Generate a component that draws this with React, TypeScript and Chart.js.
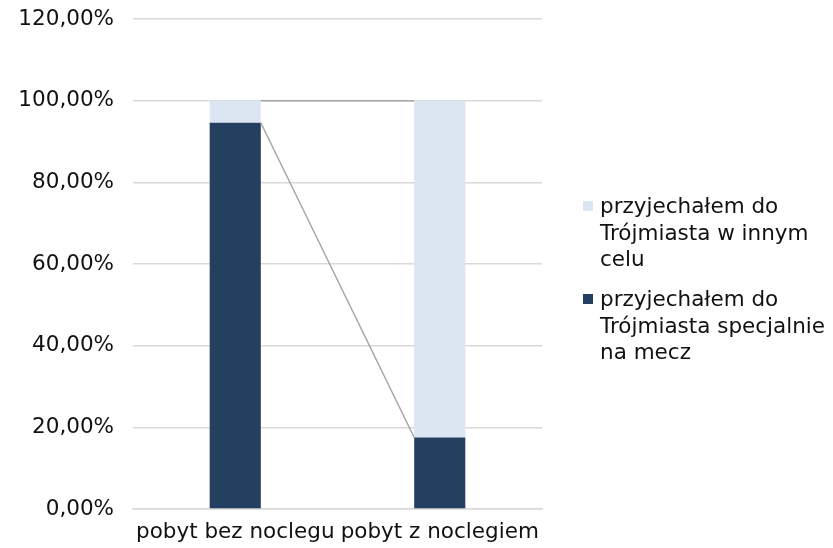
import React, { useEffect, useRef } from "react";
import { Chart, registerables } from "chart.js";

Chart.register(...registerables);

const categories = ["pobyt bez noclegu", "pobyt z noclegiem"];
const seriesNames = [
  "przyjechałem do Trójmiasta specjalnie na mecz",
  "przyjechałem do Trójmiasta w innym celu",
];
const specjalnie = [94.6, 17.5];
const innyCel = [5.4, 82.5];
const legendLines = [
  ["przyjechałem do", "Trójmiasta w innym", "celu"],
  ["przyjechałem do", "Trójmiasta specjalnie", "na mecz"],
];

const DARK = "#253f60";
const LIGHT = "#dce6f2";
const FONT = "'DejaVu Sans', Verdana, sans-serif";
const TEXT = "#111111";
const FS = 21.5;

const seriesLines = {
  id: "seriesLines",
  afterDatasetsDraw(chart: any) {
    const ctx = chart.ctx;
    ctx.save();
    ctx.strokeStyle = "#a6a6a6";
    ctx.lineWidth = 1.5;
    chart.data.datasets.forEach((_: any, di: number) => {
      const meta = chart.getDatasetMeta(di);
      const els = meta.data;
      for (let i = 0; i < els.length - 1; i++) {
        const a = els[i];
        const b = els[i + 1];
        ctx.beginPath();
        ctx.moveTo(a.x + a.width / 2, a.y);
        ctx.lineTo(b.x - b.width / 2, b.y);
        ctx.stroke();
      }
    });
    ctx.restore();
  },
};

export default function App() {
  const ref = useRef<HTMLCanvasElement>(null);
  useEffect(() => {
    document.body.style.margin = "0";
    const chart = new Chart(ref.current!, {
      type: "bar",
      data: {
        labels: categories,
        datasets: [
          {
            label: seriesNames[0],
            data: specjalnie,
            backgroundColor: DARK,
            barPercentage: 0.25,
            categoryPercentage: 1,
          },
          {
            label: seriesNames[1],
            data: innyCel,
            backgroundColor: LIGHT,
            barPercentage: 0.25,
            categoryPercentage: 1,
          },
        ],
      },
      options: {
        animation: false,
        responsive: false,
        maintainAspectRatio: false,
        layout: { padding: { top: 19, right: 291, bottom: 0, left: 0 } },
        plugins: { legend: { display: false }, tooltip: { enabled: false } },
        scales: {
          x: {
            stacked: true,
            grid: { display: false, drawTicks: false },
            border: { display: true, color: "#d9d9d9", width: 1.5 },
            ticks: {
              color: TEXT,
              font: { family: FONT, size: FS },
              padding: 11,
              maxRotation: 0,
              autoSkip: false,
            },
            afterFit: (s: any) => {
              s.height = 39;
              s.paddingLeft = 0;
              s.paddingRight = 0;
            },
          },
          y: {
            stacked: true,
            min: 0,
            max: 120,
            grid: { color: "#d9d9d9", lineWidth: 1.5, drawTicks: false },
            border: { display: false },
            ticks: {
              stepSize: 20,
              color: TEXT,
              font: { family: FONT, size: FS },
              padding: 19,
              callback: (v: any) => Number(v).toFixed(2).replace(".", ",") + "%",
            },
            afterFit: (s: any) => {
              s.width = 133;
              s.paddingTop = 0;
              s.paddingBottom = 0;
            },
          },
        },
      },
      plugins: [seriesLines],
    });
    return () => chart.destroy();
  }, []);

  const colors = [LIGHT, DARK];
  const tops = [193, 286];
  return (
    <div style={{ position: "fixed", left: 0, top: 0, width: 833, height: 548, background: "#fff" }}>
      <canvas ref={ref} width={833} height={548} style={{ display: "block" }} />
      {legendLines.map((lines, i) => (
        <div
          key={i}
          style={{
            position: "absolute",
            left: 583,
            top: tops[i],
            fontFamily: FONT,
            fontSize: FS,
            lineHeight: "26.5px",
            color: TEXT,
          }}
        >
          <span
            style={{
              position: "absolute",
              left: 0,
              top: 8,
              width: 10,
              height: 10,
              background: colors[i],
            }}
          />
          <div style={{ marginLeft: 17, whiteSpace: "nowrap" }}>
            {lines.map((l, j) => (
              <div key={j}>{l}</div>
            ))}
          </div>
        </div>
      ))}
    </div>
  );
}
